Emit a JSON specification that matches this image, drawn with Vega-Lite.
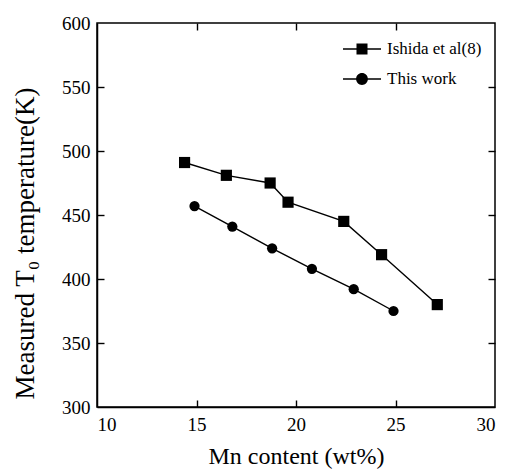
{
  "$schema": "https://vega.github.io/schema/vega-lite/v6.json",
  "width": 398,
  "height": 384,
  "autosize": "none",
  "padding": {"left": 97, "top": 23, "right": 11, "bottom": 63},
  "background": "white",
  "config": {
    "view": {"stroke": "black", "strokeWidth": 1.5},
    "font": "Liberation Serif",
    "axis": {
      "grid": false,
      "domainColor": "black",
      "domainWidth": 1.5,
      "tickColor": "black",
      "tickWidth": 1.4,
      "tickSize": 7,
      "labelFont": "Liberation Serif",
      "labelFontSize": 19,
      "labelColor": "black",
      "titleFont": "Liberation Serif",
      "titleFontWeight": "normal",
      "titleColor": "black"
    },
    "legend": {
      "labelFont": "Liberation Serif",
      "labelFontSize": 17,
      "labelColor": "black"
    }
  },
  "data": {
    "values": [
      {"series": "Ishida et al(8)", "mn": 14.4, "t0": 491},
      {"series": "Ishida et al(8)", "mn": 16.5, "t0": 481},
      {"series": "Ishida et al(8)", "mn": 18.7, "t0": 475},
      {"series": "Ishida et al(8)", "mn": 19.6, "t0": 460},
      {"series": "Ishida et al(8)", "mn": 22.4, "t0": 445},
      {"series": "Ishida et al(8)", "mn": 24.3, "t0": 419},
      {"series": "Ishida et al(8)", "mn": 27.1, "t0": 380},
      {"series": "This work", "mn": 14.9, "t0": 457},
      {"series": "This work", "mn": 16.8, "t0": 441},
      {"series": "This work", "mn": 18.8, "t0": 424},
      {"series": "This work", "mn": 20.8, "t0": 408},
      {"series": "This work", "mn": 22.9, "t0": 392},
      {"series": "This work", "mn": 24.9, "t0": 375}
    ]
  },
  "layer": [
    {
      "mark": {"type": "line", "color": "black", "strokeWidth": 1.4},
      "encoding": {
        "x": {"field": "mn", "type": "quantitative", "scale": {"domain": [10, 30], "nice": false, "zero": false},
              "axis": {"title": "Mn content (wt%)", "titleFontSize": 24, "values": [10, 15, 20, 25, 30], "ticks": false, "labelPadding": 8,
                       "titleY": 56, "titleBaseline": "alphabetic"}},
        "y": {"field": "t0", "type": "quantitative", "scale": {"domain": [300, 600], "nice": false, "zero": false},
              "axis": {"title": "Measured T₀ temperature(K)", "titleFontSize": 27, "values": [300, 350, 400, 450, 500, 550, 600], "ticks": false, "labelPadding": 7,
                       "titleX": -72, "titleY": 220, "titleBaseline": "middle", "titleAlign": "center", "titleAngle": -90}},
        "detail": {"field": "series"}
      }
    },
    {
      "mark": {"type": "point", "filled": true, "color": "black", "opacity": 1},
      "encoding": {
        "x": {"field": "mn", "type": "quantitative", "scale": {"domain": [10, 30], "nice": false, "zero": false},
              "axis": {"orient": "top", "offset": -384, "labels": false, "title": null, "values": [15, 20, 25], "domain": false, "ticks": true}},
        "y": {"field": "t0", "type": "quantitative", "scale": {"domain": [300, 600], "nice": false, "zero": false},
              "axis": {"orient": "right", "offset": -398, "labels": false, "title": null, "values": [350, 400, 450, 500, 550], "domain": false, "ticks": true}},
        "shape": {"field": "series", "type": "nominal",
                  "scale": {"domain": ["Ishida et al(8)", "This work"], "range": ["square", "circle"]},
                  "legend": null},
        "size": {"field": "series", "type": "nominal",
                 "scale": {"domain": ["Ishida et al(8)", "This work"], "range": [125, 105]},
                 "legend": null}
      }
    },
    {
      "transform": [{"filter": "false"}],
      "mark": {"type": "point", "filled": true, "fill": "black", "opacity": 1},
      "encoding": {
        "x": {"field": "mn", "type": "quantitative", "scale": {"domain": [10, 30], "nice": false, "zero": false},
              "axis": {"orient": "bottom", "offset": -384, "labels": false, "title": null, "values": [15, 20, 25], "domain": false, "ticks": true}},
        "y": {"field": "t0", "type": "quantitative", "scale": {"domain": [300, 600], "nice": false, "zero": false},
              "axis": {"orient": "left", "offset": -398, "labels": false, "title": null, "values": [350, 400, 450, 500, 550], "domain": false, "ticks": true}},
        "shape": {"field": "series", "type": "nominal",
                  "scale": {"domain": ["Ishida et al(8)", "This work"],
                            "range": ["M-1,-0.04H-0.29V-0.29H0.29V-0.04H1V0.04H0.29V0.29H-0.29V0.04H-1Z",
                                      "M-1,-0.04H1V0.04H-1ZM0.31,0A0.31,0.31 0 1,1 -0.31,0A0.31,0.31 0 1,1 0.31,0Z"]},
                  "legend": {
                    "title": null,
                    "orient": "none",
                    "legendX": 245,
                    "legendY": 11,
                    "padding": 0,
                    "symbolSize": 1444,
                    "symbolFillColor": "black",
                    "symbolOpacity": 1,
                    "labelOffset": 5,
                    "clipHeight": 30,
                    "rowPadding": 0
                  }}
      }
    }
  ],
  "resolve": {
    "scale": {"x": "independent", "y": "independent", "shape": "independent", "size": "independent"},
    "axis": {"x": "independent", "y": "independent"},
    "legend": {"shape": "independent", "size": "independent"}
  }
}
